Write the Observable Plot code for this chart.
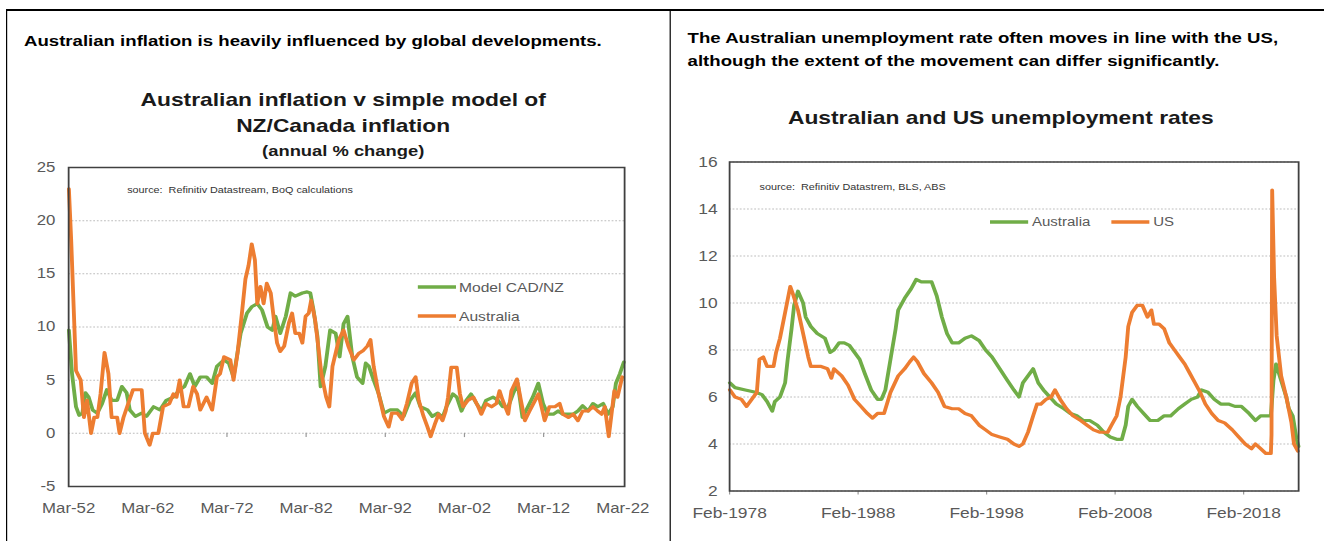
<!DOCTYPE html>
<html>
<head>
<meta charset="utf-8">
<script src="https://cdn.jsdelivr.net/npm/d3@7"></script>
<script src="https://cdn.jsdelivr.net/npm/@observablehq/plot@0.6"></script>
<style>
  html, body { margin: 0; padding: 0; background: #fff; overflow: hidden; }
  body { width: 1324px; height: 541px; position: relative; font-family: "Liberation Sans", Arial, sans-serif; }
  #stage { position: absolute; left: 0; top: 0; width: 1104px; height: 541px; transform: scaleX(1.2); transform-origin: 0 0; }
  .abs { position: absolute; }
  .hdr { font-weight: bold; font-size: 15.5px; color: #000; line-height: 23px; white-space: nowrap; }
  .ttl { font-weight: bold; font-size: 19px; color: #1a1a1a; text-align: center; line-height: 26px; white-space: nowrap; }
  .src { font-size: 9px; color: #333; white-space: pre; }
  .leg { font-size: 13px; color: #595959; white-space: nowrap; display: flex; align-items: center; height: 16px; }
  .leg svg { margin-right: 3px; }
</style>
</head>
<body>
<div id="stage"></div>
<script>
// ---------------- DATA ----------------
// Left chart: Australian inflation v simple model of NZ/Canada inflation (annual % change)
const leftYTicks = [-5, 0, 5, 10, 15, 20, 25];
const leftXTickYears = [1952.17, 1962.17, 1972.17, 1982.17, 1992.17, 2002.17, 2012.17, 2022.17];
const leftXTickLabels = ["Mar-52", "Mar-62", "Mar-72", "Mar-82", "Mar-92", "Mar-02", "Mar-12", "Mar-22"];

const modelCadNz = [
  [1952.2,9.7],[1952.6,5.6],[1953.1,2.5],[1953.5,1.7],[1953.9,1.9],[1954.3,3.8],[1954.7,3.4],[1955.2,2.2],
  [1955.8,1.9],[1956.4,2.8],[1957.0,4.1],[1957.6,3.1],[1958.3,3.1],[1958.9,4.4],[1959.5,3.8],[1959.9,2.2],
  [1960.6,1.6],[1961.4,1.9],[1962.0,1.6],[1962.9,2.5],[1963.7,2.2],[1964.5,3.1],[1965.4,3.4],[1966.2,4.1],
  [1966.8,4.4],[1967.5,5.6],[1968.1,4.4],[1968.8,5.3],[1969.6,5.3],[1970.3,4.7],[1970.9,6.3],[1971.8,6.9],
  [1972.4,6.6],[1973.0,5.3],[1973.9,9.4],[1974.7,11.3],[1975.3,11.9],[1976.0,12.2],[1976.6,11.6],[1977.3,10.0],
  [1977.9,9.7],[1978.3,11.0],[1978.9,9.4],[1979.6,11.0],[1980.2,13.2],[1980.8,12.9],[1981.7,13.2],[1982.3,13.3],
  [1982.7,13.2],[1983.1,11.6],[1983.6,9.1],[1984.0,4.4],[1984.6,6.3],[1985.2,9.7],[1985.9,9.4],[1986.4,7.2],
  [1986.9,10.3],[1987.4,11.0],[1988.0,7.2],[1988.6,5.3],[1989.3,4.7],[1989.7,6.6],[1990.1,6.3],[1990.7,5.0],
  [1991.3,3.8],[1992.0,1.9],[1992.8,2.2],[1993.7,2.2],[1994.5,1.6],[1995.3,3.1],[1996.0,3.8],[1996.6,2.5],
  [1997.5,2.2],[1998.1,1.6],[1998.8,1.9],[1999.4,1.5],[1999.9,2.5],[2000.7,3.7],[2001.2,3.4],[2001.8,2.1],
  [2002.4,3.1],[2003.0,3.7],[2003.7,2.8],[2004.3,2.1],[2004.9,3.1],[2005.8,3.4],[2006.4,3.1],[2007.0,2.5],
  [2007.7,2.5],[2008.3,3.7],[2008.9,4.7],[2009.5,1.5],[2010.2,2.5],[2010.8,3.4],[2011.5,4.7],[2012.1,2.8],
  [2012.7,1.8],[2013.4,1.8],[2014.0,2.1],[2014.6,1.8],[2015.3,1.8],[2015.9,1.8],[2016.5,2.1],[2017.1,2.6],
  [2017.8,2.1],[2018.4,2.8],[2019.0,2.5],[2019.7,2.8],[2020.3,1.8],[2020.9,2.5],[2021.3,4.7],[2021.8,5.6],
  [2022.3,6.7]
];

const australiaCpi = [
  [1952.2,23.0],[1952.5,18.0],[1953.1,5.9],[1953.7,5.0],[1954.1,1.5],[1954.5,3.1],[1955.0,0.0],[1955.4,1.5],
  [1955.8,1.5],[1956.2,3.7],[1956.7,7.6],[1957.2,5.6],[1957.6,1.5],[1958.3,1.5],[1958.6,0.0],[1959.1,1.5],
  [1959.7,2.8],[1960.3,4.1],[1961.4,4.1],[1961.8,0.0],[1962.4,-1.1],[1962.8,0.0],[1963.5,0.0],[1964.1,2.5],
  [1964.9,2.8],[1965.4,3.7],[1965.8,3.4],[1966.2,5.0],[1966.7,2.5],[1967.3,2.5],[1967.9,4.4],[1968.4,3.7],
  [1968.8,2.2],[1969.6,3.4],[1970.3,2.2],[1970.9,5.3],[1971.3,5.6],[1971.8,7.2],[1972.6,6.9],[1973.0,5.0],
  [1973.5,7.5],[1974.1,11.6],[1974.5,14.5],[1974.9,15.8],[1975.3,17.8],[1975.7,16.3],[1976.0,12.2],[1976.4,13.8],
  [1976.8,12.2],[1977.2,14.1],[1977.7,13.2],[1978.1,10.7],[1978.5,8.5],[1978.9,7.7],[1979.4,8.2],[1980.0,10.4],
  [1980.4,11.3],[1980.8,9.4],[1981.3,9.4],[1981.7,8.5],[1982.1,11.0],[1982.5,11.3],[1982.8,12.5],[1983.3,10.7],
  [1983.7,8.2],[1984.1,5.6],[1984.7,3.4],[1985.1,2.5],[1985.5,6.3],[1986.3,8.8],[1986.9,9.7],[1987.5,8.2],
  [1988.2,6.9],[1988.8,7.5],[1989.4,7.8],[1989.9,8.2],[1990.3,8.8],[1990.7,6.3],[1991.3,3.8],[1992.0,1.6],
  [1992.6,0.6],[1993.0,1.9],[1993.7,1.9],[1994.3,1.3],[1994.9,2.8],[1995.5,4.7],[1996.0,5.3],[1996.4,3.1],
  [1997.0,1.6],[1997.5,0.6],[1997.9,-0.3],[1998.4,0.8],[1998.9,1.8],[1999.4,1.2],[1999.8,2.1],[2000.1,3.4],
  [2000.5,6.2],[2001.2,6.2],[2001.6,3.7],[2002.0,2.5],[2002.6,3.1],[2003.3,3.4],[2003.9,2.5],[2004.3,1.8],
  [2004.9,2.8],[2005.6,2.5],[2006.2,2.8],[2006.6,4.0],[2007.0,3.1],[2007.7,1.8],[2008.1,4.0],[2008.8,5.1],
  [2009.3,3.1],[2009.8,1.2],[2010.4,2.1],[2011.1,3.1],[2011.5,3.7],[2011.9,2.5],[2012.3,1.2],[2012.9,2.5],
  [2013.6,2.5],[2014.2,2.8],[2014.6,1.8],[2015.3,1.5],[2015.9,1.8],[2016.5,1.2],[2017.1,2.1],[2017.8,2.1],
  [2018.4,2.5],[2019.0,2.1],[2019.5,1.8],[2019.9,2.5],[2020.4,-0.3],[2020.7,1.5],[2021.1,4.0],[2021.5,3.4],
  [2022.1,5.3]
];

// Right chart: Australian and US unemployment rates
const rightYTicks = [2, 4, 6, 8, 10, 12, 14, 16];
const rightXTickYears = [1978.08, 1988.08, 1998.08, 2008.08, 2018.08];
const rightXTickLabels = ["Feb-1978", "Feb-1988", "Feb-1998", "Feb-2008", "Feb-2018"];

const australiaUnemp = [
  [1978.1,6.6],[1978.5,6.4],[1979.3,6.3],[1980.1,6.2],[1980.6,6.1],[1981.0,5.8],[1981.4,5.4],[1981.6,5.8],
  [1982.0,6.0],[1982.4,6.6],[1982.6,7.6],[1982.9,8.9],[1983.1,9.9],[1983.4,10.5],[1983.8,10.0],[1984.0,9.4],
  [1984.4,9.0],[1984.9,8.7],[1985.5,8.5],[1985.9,7.9],[1986.2,8.0],[1986.6,8.3],[1987.0,8.3],[1987.4,8.2],
  [1987.8,7.9],[1988.2,7.6],[1988.6,7.0],[1989.1,6.3],[1989.6,5.9],[1989.9,5.9],[1990.2,6.3],[1990.6,7.6],
  [1991.0,8.9],[1991.2,9.7],[1991.7,10.2],[1992.2,10.6],[1992.6,11.0],[1993.0,10.9],[1993.4,10.9],[1993.8,10.9],
  [1994.2,10.3],[1994.6,9.4],[1995.0,8.7],[1995.4,8.3],[1995.9,8.3],[1996.4,8.5],[1996.9,8.6],[1997.5,8.4],
  [1998.0,8.0],[1998.5,7.7],[1999.1,7.2],[1999.7,6.7],[2000.2,6.3],[2000.6,6.0],[2000.9,6.6],[2001.3,6.9],
  [2001.7,7.2],[2002.1,6.6],[2002.5,6.3],[2003.0,6.0],[2003.5,5.7],[2004.1,5.5],[2004.6,5.3],[2005.1,5.2],
  [2005.6,5.0],[2006.1,5.0],[2006.7,4.8],[2007.2,4.5],[2007.7,4.3],[2008.2,4.2],[2008.6,4.2],[2008.9,4.8],
  [2009.1,5.6],[2009.4,5.9],[2009.8,5.6],[2010.3,5.3],[2010.8,5.0],[2011.4,5.0],[2011.9,5.2],[2012.4,5.2],
  [2013.0,5.5],[2013.5,5.7],[2014.0,5.9],[2014.5,6.0],[2014.8,6.3],[2015.3,6.2],[2015.8,5.9],[2016.3,5.7],
  [2016.9,5.7],[2017.4,5.6],[2017.9,5.6],[2018.5,5.3],[2019.0,5.0],[2019.4,5.2],[2019.8,5.2],[2020.2,5.2],
  [2020.4,6.7],[2020.6,7.4],[2021.0,6.7],[2021.4,6.0],[2021.6,5.5],[2021.9,5.2],[2022.2,4.2],[2022.35,3.9]
];

const usUnemp = [
  [1978.1,6.3],[1978.5,6.0],[1979.0,5.9],[1979.4,5.6],[1979.8,5.9],[1980.2,6.2],[1980.4,7.6],[1980.7,7.7],
  [1981.0,7.3],[1981.5,7.3],[1981.7,7.9],[1982.0,8.5],[1982.4,9.6],[1982.8,10.7],[1983.0,10.4],[1983.4,9.7],
  [1983.8,8.7],[1984.2,7.7],[1984.4,7.3],[1985.2,7.3],[1985.7,7.2],[1986.0,6.8],[1986.2,7.2],[1986.8,6.9],
  [1987.3,6.5],[1987.8,5.9],[1988.3,5.6],[1988.8,5.3],[1989.2,5.1],[1989.6,5.3],[1990.1,5.3],[1990.6,6.2],
  [1991.2,6.9],[1991.7,7.2],[1992.1,7.5],[1992.4,7.7],[1992.7,7.5],[1993.2,7.0],[1993.8,6.6],[1994.3,6.2],
  [1994.8,5.6],[1995.4,5.5],[1995.9,5.5],[1996.4,5.3],[1996.9,5.2],[1997.5,4.8],[1998.0,4.6],[1998.5,4.4],
  [1999.1,4.3],[1999.7,4.2],[2000.2,4.0],[2000.6,3.9],[2000.9,4.0],[2001.3,4.5],[2001.7,5.2],[2002.0,5.7],
  [2002.3,5.7],[2002.7,5.9],[2003.1,6.0],[2003.4,6.3],[2003.8,5.9],[2004.3,5.5],[2004.8,5.2],[2005.4,5.0],
  [2005.9,4.8],[2006.4,4.6],[2006.9,4.5],[2007.5,4.5],[2007.8,4.8],[2008.2,5.2],[2008.5,6.0],[2008.9,7.7],
  [2009.1,9.0],[2009.4,9.6],[2009.8,9.9],[2010.2,9.9],[2010.6,9.4],[2010.9,9.7],[2011.1,9.1],[2011.5,9.1],
  [2011.9,8.9],[2012.3,8.3],[2012.7,8.0],[2013.1,7.7],[2013.5,7.4],[2013.9,7.0],[2014.3,6.6],[2014.7,6.2],
  [2015.1,5.7],[2015.6,5.3],[2016.1,5.0],[2016.6,4.9],[2017.2,4.6],[2017.7,4.3],[2018.2,4.0],[2018.7,3.8],
  [2019.0,4.0],[2019.4,3.8],[2019.8,3.6],[2020.2,3.6],[2020.25,4.4],[2020.3,14.8],[2020.45,11.1],[2020.65,8.6],
  [2021.0,6.9],[2021.4,6.0],[2021.8,4.9],[2022.0,4.0],[2022.3,3.7]
];

const GREEN = "#70ad47";
const ORANGE = "#ed7d31";
const GRID = "#bdbdbd";
const TEXT = "#595959";

// ---------------- LAYOUT ----------------
const stage = document.getElementById("stage");
function el(cls, css, html) {
  const d = document.createElement("div");
  d.className = "abs " + cls;
  Object.assign(d.style, css);
  d.innerHTML = html;
  stage.appendChild(d);
  return d;
}
// panel borders
el("", {left: "5px", top: "9px", width: "1200px", height: "600px", borderTop: "2px solid #000", borderLeft: "1.7px solid #000"}, "");
el("", {left: "557.5px", top: "9px", width: "0px", height: "600px", borderLeft: "1.7px solid #000"}, "");

// header texts
el("hdr", {left: "20px", top: "29px"}, "Australian inflation is heavily influenced by global developments.");
el("hdr", {left: "573px", top: "26px"}, "The Australian unemployment rate often moves in line with the US,<br>although the extent of the movement can differ significantly.");

// chart titles
el("ttl", {left: "36px", width: "500px", top: "87px"}, "Australian inflation v simple model of<br>NZ/Canada inflation");
el("ttl", {left: "36px", width: "500px", top: "141px", fontSize: "15.3px", lineHeight: "20px"}, "(annual % change)");
el("ttl", {left: "584px", width: "500px", top: "105px"}, "Australian and US unemployment rates");

// sources
el("src", {left: "106px", top: "185px"}, "source:  Refinitiv Datastream, BoQ calculations");
el("src", {left: "633px", top: "182px"}, "source:  Refinitiv Datastrem, BLS, ABS");

// legends
function legend(x, y, color, label, size) {
  el("leg", {left: x + "px", top: (y - 8) + "px", fontSize: size + "px"},
    `<svg width="32" height="6"><line x1="0" x2="32" y1="3" y2="3" stroke="${color}" stroke-width="3.5"/></svg><span>${label}</span>`);
}
legend(347.5, 287, GREEN, "Model CAD/NZ", 13);
legend(347.5, 316, ORANGE, "Australia", 13);
legend(825, 222, GREEN, "Australia", 12.5);
legend(926, 222, ORANGE, "US", 12.5);

// ---------------- CHARTS ----------------
const fx = d => d[0], fy = d => d[1];

const left = Plot.plot({
  width: 558, height: 380,
  marginLeft: 56.7, marginRight: 38, marginTop: 27, marginBottom: 34,
  style: {fontFamily: "'Liberation Sans', Arial, sans-serif", color: TEXT, background: "transparent", overflow: "visible"},
  x: {domain: [1952.17, 2022.4]},
  y: {domain: [-5, 25]},
  marks: [
    Plot.gridY(leftYTicks, {stroke: GRID, strokeOpacity: 1, strokeDasharray: "1.5,1.5"}),
    Plot.axisY(leftYTicks, {tickSize: 0, tickPadding: 11, fontSize: 14, tickFormat: d => String(d), fill: TEXT}),
    Plot.axisX(leftXTickYears, {tickSize: 0, tickPadding: 17, fontSize: 14, fill: TEXT,
      tickFormat: d => leftXTickLabels[leftXTickYears.indexOf(d)]}),
    Plot.ruleX(leftXTickYears.slice(1, -1), {y1: 0, y2: -0.4, stroke: "#999"}),
    Plot.line(modelCadNz, {x: fx, y: fy, stroke: GREEN, strokeWidth: 3.2}),
    Plot.line(australiaCpi, {x: fx, y: fy, stroke: ORANGE, strokeWidth: 3.2}),
    Plot.frame({stroke: "#404040", strokeWidth: 1.5})
  ]
});
left.style.position = "absolute";
left.style.left = "0px";
left.style.top = "140px";
stage.appendChild(left);

const right = Plot.plot({
  width: 543, height: 380,
  marginLeft: 47.5, marginRight: 21.3, marginTop: 21.5, marginBottom: 29.5,
  style: {fontFamily: "'Liberation Sans', Arial, sans-serif", color: TEXT, background: "transparent", overflow: "visible"},
  x: {domain: [1978.08, 2022.36]},
  y: {domain: [2, 16]},
  marks: [
    Plot.gridY(rightYTicks, {stroke: GRID, strokeOpacity: 1, strokeDasharray: "1.5,1.5"}),
    Plot.axisY(rightYTicks, {tickSize: 0, tickPadding: 10, fontSize: 14.5, tickFormat: d => String(d), fill: TEXT}),
    Plot.axisX(rightXTickYears, {tickSize: 4, tickPadding: 13, fontSize: 14.5, fill: TEXT, stroke: "#999",
      tickFormat: d => rightXTickLabels[rightXTickYears.indexOf(d)]}),
    Plot.line(australiaUnemp, {x: fx, y: fy, stroke: GREEN, strokeWidth: 3.2}),
    Plot.line(usUnemp, {x: fx, y: fy, stroke: ORANGE, strokeWidth: 3.2}),
    Plot.frame({stroke: "#404040", strokeWidth: 1.5})
  ]
});
right.style.position = "absolute";
right.style.left = "560px";
right.style.top = "140px";
stage.appendChild(right);
</script>
</body>
</html>
